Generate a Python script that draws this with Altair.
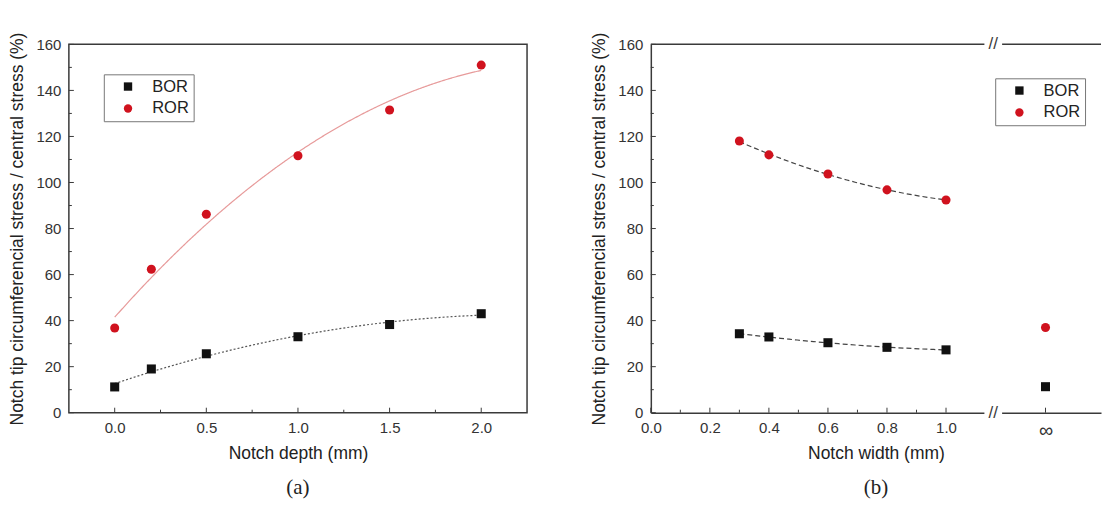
import altair as alt
import pandas as pd

# ---------------- data ----------------
depth_mm = [0.0, 0.2, 0.5, 1.0, 1.5, 2.0]
bor_depth = [11.2, 19.0, 25.6, 33.0, 38.3, 43.0]
ror_depth = [36.8, 62.3, 86.2, 111.6, 131.5, 151.0]

width_mm = [0.3, 0.4, 0.6, 0.8, 1.0]
bor_width = [34.3, 32.9, 30.4, 28.4, 27.3]
ror_width = [118.0, 112.0, 103.7, 96.8, 92.4]

inf_label = "∞"
inf_position = 1.337          # axis position used for the "∞" case
bor_inf = 11.3
ror_inf = 37.0

series_names = ["BOR", "ROR"]
series_colors = ["#111111", "#d0121e"]
series_shapes = ["square", "circle"]

y_major = [0, 20, 40, 60, 80, 100, 120, 140, 160]
y_minor = [10, 30, 50, 70, 90, 110, 130, 150]
depth_major = [0.0, 0.5, 1.0, 1.5, 2.0]
depth_minor = [0.25, 0.75, 1.25, 1.75]
width_major = [0.0, 0.2, 0.4, 0.6, 0.8, 1.0, inf_position]
width_minor = [0.1, 0.3, 0.5, 0.7, 0.9]
break_at = [1.16]
break_gap = [1.13, 1.19]

y_title = "Notch tip circumferencial stress / central stress (%)"

# ---------------- style ----------------
FONT = "Liberation Sans"
SERIF = "Liberation Serif"
AX = "#3a3a3a"
WL, WR, H = 459, 451, 369
LABEL_SIZE = 15
TITLE_SIZE = 17.5
INF_SIZE = 20

df_depth = pd.DataFrame({
    "x": depth_mm * 2,
    "y": bor_depth + ror_depth,
    "series": ["BOR"] * len(depth_mm) + ["ROR"] * len(depth_mm),
})
df_width = pd.DataFrame({
    "x": width_mm * 2,
    "y": bor_width + ror_width,
    "series": ["BOR"] * len(width_mm) + ["ROR"] * len(width_mm),
})
df_inf = pd.DataFrame({
    "x": [inf_position, inf_position],
    "y": [bor_inf, ror_inf],
    "series": ["BOR", "ROR"],
})
df_width_all = pd.concat([df_width, df_inf], ignore_index=True)

ys = alt.Scale(domain=[0, 160], nice=False, zero=False)


def legend(lx, ly):
    return alt.Legend(
        title=None, orient="none", legendX=lx, legendY=ly,
        strokeColor="#777", padding=4, symbolOffset=12, labelOffset=16,
        labelFont=FONT, labelFontSize=16.5, labelColor="#222",
        symbolSize=70, symbolStrokeWidth=0, rowPadding=5,
    )


def y_axis(domain):
    return alt.Axis(
        values=y_major, ticks=False, domain=domain, domainColor=AX, domainWidth=1.5,
        grid=False, labelPadding=8, labelFont=FONT, labelFontSize=LABEL_SIZE, labelColor="#333",
        title=y_title, titleFont=FONT, titleFontSize=TITLE_SIZE, titleFontWeight="normal",
        titleColor="#222", titlePadding=9,
    )


def make_panel(xs, xaxis, yaxis):
    def X(field):
        return alt.X(field, scale=xs, axis=xaxis)

    def Y(field):
        return alt.Y(field, scale=ys, axis=yaxis)

    def points(df, lx, ly):
        return alt.Chart(df).mark_point(filled=True, opacity=1, size=82).encode(
            x=X("x:Q"), y=Y("y:Q"),
            color=alt.Color("series:N", scale=alt.Scale(domain=series_names, range=series_colors),
                            legend=legend(lx, ly)),
            shape=alt.Shape("series:N", scale=alt.Scale(domain=series_names, range=series_shapes),
                            legend=legend(lx, ly)),
        )

    def x_ticks(values, length):
        return alt.Chart(pd.DataFrame({"x": values})).mark_rule(color=AX, strokeWidth=1).encode(
            x=X("x:Q"), y=alt.value(H), y2=alt.value(H - length),
        )

    def y_ticks(values, length):
        return alt.Chart(pd.DataFrame({"y": values})).mark_rule(color=AX, strokeWidth=1).encode(
            y=Y("y:Q"), x=alt.value(0), x2=alt.value(length),
        )

    def fit(df, series, extent, color, dash, width=1.2):
        return alt.Chart(df).transform_filter(alt.datum.series == series).transform_regression(
            "x", "y", method="poly", order=2, extent=extent
        ).mark_line(color=color, strokeDash=dash, strokeWidth=width).encode(
            x=X("x:Q"), y=Y("y:Q"),
        )

    return points, x_ticks, y_ticks, fit, X


def panel_title(text):
    return alt.TitleParams(text, orient="bottom", font=SERIF, fontSize=21,
                           fontWeight="normal", color="#222", offset=15, anchor="middle")


# ---------------- left panel: notch depth ----------------
xsL = alt.Scale(domain=[-0.25, 2.25], nice=False, zero=False)
x_axis_L = alt.Axis(
    values=depth_major, format=".1f", ticks=False, domain=False, grid=False,
    labelPadding=8, labelFlush=False, labelFont=FONT, labelFontSize=LABEL_SIZE, labelColor="#333",
    title="Notch depth (mm)", titleFont=FONT, titleFontSize=TITLE_SIZE, titleFontWeight="normal",
    titleColor="#222", titlePadding=9,
)
ptsL, xtL, ytL, fitL, XL = make_panel(xsL, x_axis_L, y_axis(False))

left = alt.layer(
    xtL(depth_major, 5),
    xtL(depth_minor, 3),
    ytL(y_major, 5),
    ytL(y_minor, 3),
    fitL(df_depth, "ROR", [0, 2], "#e79a9a", [1, 0], 1.2),
    fitL(df_depth, "BOR", [0, 2], "#555555", [2, 2], 1.2),
    ptsL(df_depth, 35, 30),
).properties(
    width=WL, height=H,
    view=alt.ViewBackground(stroke=AX, strokeWidth=1.5),
    title=panel_title("(a)"),
)

# ---------------- right panel: notch width ----------------
xsR = alt.Scale(domain=[0, 1.525], nice=False, zero=False)
x_axis_R = alt.Axis(
    values=width_major, ticks=False, domain=True, domainColor=AX, domainWidth=1.5, grid=False,
    labelExpr=f"datum.value > 1.2 ? '{inf_label}' : format(datum.value, '.1f')",
    labelPadding=8, labelFlush=False, labelFont=FONT,
    labelFontSize={"condition": {"test": "datum.value > 1.2", "value": INF_SIZE},
                   "value": LABEL_SIZE},
    labelColor="#333",
    title="Notch width (mm)", titleFont=FONT, titleFontSize=TITLE_SIZE, titleFontWeight="normal",
    titleColor="#222", titlePadding=4,
)
ptsR, xtR, ytR, fitR, XR = make_panel(xsR, x_axis_R, y_axis(True))

top_line = alt.Chart(pd.DataFrame({"v": [0]})).mark_rule(color=AX, strokeWidth=1.5).encode(
    x=alt.value(0), x2=alt.value(WR), y=alt.value(0)
)

gap_df = pd.DataFrame({"x": [break_gap[0]], "b": [break_gap[1]]})
gap_top = alt.Chart(gap_df).mark_rect(color="white").encode(
    x=XR("x:Q"), x2="b:Q", y=alt.value(-3), y2=alt.value(3)
)
gap_bottom = alt.Chart(gap_df).mark_rect(color="white").encode(
    x=XR("x:Q"), x2="b:Q", y=alt.value(H - 3), y2=alt.value(H + 3)
)
brk_df = pd.DataFrame({"x": break_at})
brk_top = alt.Chart(brk_df).mark_text(text="//", font=FONT, fontSize=17, color=AX,
                                      baseline="middle", align="center").encode(
    x=XR("x:Q"), y=alt.value(0)
)
brk_bottom = alt.Chart(brk_df).mark_text(text="//", font=FONT, fontSize=17, color=AX,
                                         baseline="middle", align="center").encode(
    x=XR("x:Q"), y=alt.value(H)
)

right = alt.layer(
    top_line,
    xtR(width_major, 5),
    xtR(width_minor, 3),
    ytR(y_major, 5),
    ytR(y_minor, 3),
    fitR(df_width, "ROR", [0.3, 1.0], "#444444", [5, 3], 1.2),
    fitR(df_width, "BOR", [0.3, 1.0], "#444444", [5, 3], 1.2),
    ptsR(df_width_all, 345, 34),
    gap_top, gap_bottom, brk_top, brk_bottom,
).properties(
    width=WR, height=H,
    title=panel_title("(b)"),
)

chart = alt.hconcat(left, right, spacing=124, bounds="flush").resolve_legend(
    color="independent", shape="independent"
).resolve_scale(color="independent", shape="independent").properties(
    padding={"left": 8, "top": 30, "right": 0, "bottom": 0},
    background="white",
).configure_view(stroke="transparent")

chart.save("out.html", embed_options={"renderer": "svg", "actions": False})
